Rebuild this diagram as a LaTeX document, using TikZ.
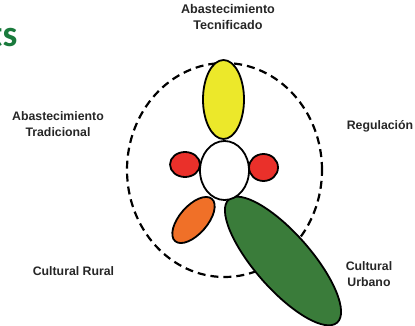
\documentclass[tikz,border=0pt]{standalone}
\usepackage{fontspec}
\setmainfont{Liberation Sans}
\newfontfamily\calibfont{Carlito}
\usetikzlibrary{shapes.geometric}
\definecolor{cyellow}{RGB}{236,232,42}
\definecolor{cred}{RGB}{234,48,42}
\definecolor{corange}{RGB}{240,112,40}
\definecolor{cgreen}{RGB}{58,124,58}
\definecolor{ctitle}{RGB}{26,122,60}
\begin{document}
\begin{tikzpicture}[x=1pt,y=1pt,
  petal/.style={ellipse, draw=black, line width=1.8pt, inner sep=0pt},
  lbl/.style={align=center, inner sep=0pt, font=\fontsize{12.3}{16}\selectfont\bfseries, text=black!85},
  ring/.style={draw=black, line width=2.2pt, dash pattern=on 8pt off 5pt}]
\useasboundingbox (0,0) rectangle (415,-326);
\clip (0,0) rectangle (415,-326);
% partial title
\node[anchor=base east, inner sep=0pt, text=ctitle, font=\fontsize{37}{40}\calibfont\bfseries] (title) at (17.5,-47) {ts};
% dashed boundary
\node[ellipse, ring, minimum width=195pt, minimum height=214pt, inner sep=0pt] (ring) at (224.5,-170) {};
% petals
\node[petal, fill=cyellow, minimum width=41pt, minimum height=79pt] (tec) at (223.5,-99.5) {};
\node[petal, fill=cred, minimum width=30pt, minimum height=25pt] (redl) at (185,-164.5) {};
\node[petal, fill=cred, minimum width=29pt, minimum height=27pt] (redr) at (263.5,-167.5) {};
\node[petal, fill=corange, minimum width=56pt, minimum height=28pt, rotate=49] (rural) at (193.5,-220) {};
\node[petal, fill=cgreen, minimum width=164pt, minimum height=56pt, rotate=-48.7] (urb) at (283,-261) {};
\node[petal, fill=white, minimum width=49pt, minimum height=59pt] (core) at (224.5,-170.5) {};
% labels
\node[lbl, font=\fontsize{12.6}{16}\selectfont\bfseries] (ltec) at (228,-17) {Abastecimiento\\Tecnificado};
\node[lbl] (ltrad) at (58,-124) {Abastecimiento\\Tradicional};
\node[lbl] (lreg) at (380,-126) {Regulación};
\node[lbl] (lrur) at (73.5,-271) {Cultural Rural};
\node[lbl] (lurb) at (369,-274) {Cultural\\Urbano};
\end{tikzpicture}
\end{document}
